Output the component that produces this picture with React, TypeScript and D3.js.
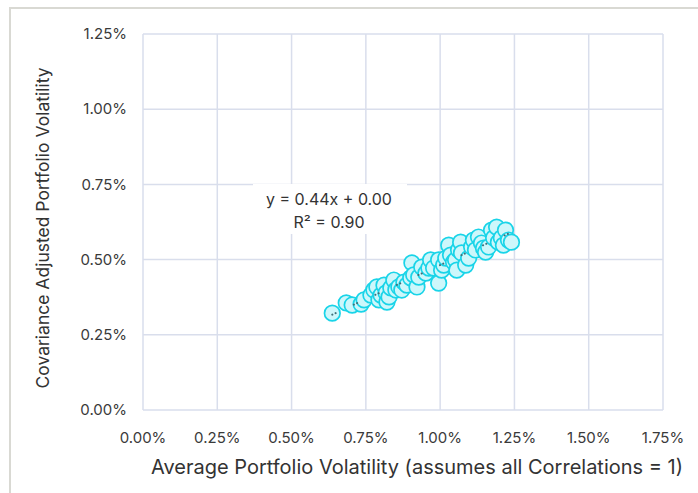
import React from 'react'
import * as d3 from 'd3'

// average portfolio volatility (%), all correlations = 1
const avgVol = [
  0.637, 0.684, 0.704, 0.734, 0.744, 0.767, 0.777, 0.787, 0.794, 0.801,
  0.811, 0.818, 0.821, 0.828, 0.834, 0.844, 0.851, 0.861, 0.871, 0.878,
  0.888, 0.901, 0.905, 0.911, 0.922, 0.928, 0.938, 0.952, 0.962, 0.968,
  0.978, 0.995, 0.995, 1.005, 1.012, 1.019, 1.029, 1.035, 1.045, 1.052,
  1.056, 1.062, 1.069, 1.072, 1.086, 1.096, 1.106, 1.112, 1.119, 1.129,
  1.139, 1.146, 1.153, 1.163, 1.173, 1.180, 1.190, 1.196, 1.206, 1.213,
  1.220, 1.230, 1.240,
]
// covariance adjusted portfolio volatility (%)
const covVol = [
  0.322, 0.356, 0.349, 0.352, 0.366, 0.382, 0.399, 0.409, 0.366, 0.382,
  0.415, 0.389, 0.359, 0.376, 0.406, 0.432, 0.399, 0.409, 0.399, 0.425,
  0.415, 0.439, 0.489, 0.449, 0.409, 0.442, 0.475, 0.455, 0.472, 0.499,
  0.472, 0.422, 0.499, 0.465, 0.482, 0.505, 0.548, 0.515, 0.492, 0.499,
  0.465, 0.532, 0.558, 0.522, 0.482, 0.505, 0.542, 0.565, 0.532, 0.575,
  0.555, 0.538, 0.525, 0.542, 0.598, 0.572, 0.608, 0.558, 0.572, 0.548,
  0.598, 0.565, 0.558,
]

const xTicks = [0, 0.25, 0.5, 0.75, 1.0, 1.25, 1.5, 1.75]
const yTicks = [0, 0.25, 0.5, 0.75, 1.0, 1.25]
const eqLabel = 'y = 0.44x + 0.00'
const r2Label = 'R² = 0.90'

const W = 698
const H = 493
const margin = { top: 34, right: 35, bottom: 83, left: 143 }
const font = 'Inter, "DejaVu Sans", sans-serif'

export default function App() {
  const x = d3.scaleLinear().domain([0, 1.75]).range([margin.left, W - margin.right])
  const y = d3.scaleLinear().domain([0, 1.25]).range([H - margin.bottom, margin.top])

  const pts = avgVol.map((v, i) => [v, covVol[i]] as [number, number])

  // least squares trendline
  const mx = d3.mean(avgVol) as number
  const my = d3.mean(covVol) as number
  const slope =
    d3.sum(pts, d => (d[0] - mx) * (d[1] - my)) / d3.sum(pts, d => (d[0] - mx) ** 2)
  const icpt = my - slope * mx
  const [x0, x1] = d3.extent(avgVol) as [number, number]
  const trend = d3.line<number>().x(d => x(d)).y(d => y(slope * d + icpt))([x0, x1])

  const grid = '#d9deec'
  const fmt = (d: number) => d.toFixed(2) + '%'

  return (
    <svg width={W} height={H} style={{ position: 'absolute', left: 0, top: 0, fontFamily: font }}>
      <rect width={W} height={H} fill="#fff" />
      <path d={`M10,${H} V8 H${W}`} fill="none" stroke="#d9d9d3" strokeWidth={2} />

      {xTicks.map(t => (
        <line key={'gx' + t} x1={x(t)} x2={x(t)} y1={y(0)} y2={y(1.25)} stroke={grid} strokeWidth={1.5} />
      ))}
      {yTicks.map(t => (
        <line key={'gy' + t} x1={x(0)} x2={x(1.75)} y1={y(t)} y2={y(t)} stroke={grid} strokeWidth={1.5} />
      ))}

      {yTicks.map(t => (
        <text key={'ty' + t} x={x(0) - 16} y={y(t)} dy="0.35em" textAnchor="end" fontSize={15} fill="#3a3a3a">
          {fmt(t)}
        </text>
      ))}
      {xTicks.map(t => (
        <text key={'tx' + t} x={x(t)} y={y(0) + 28} dy="0.35em" textAnchor="middle" fontSize={15} fill="#3a3a3a">
          {fmt(t)}
        </text>
      ))}

      {pts.map((d, i) => (
        <circle key={i} cx={x(d[0])} cy={y(d[1])} r={7.8} fill="#cdf7fb" stroke="#19d4e8" strokeWidth={1.7} />
      ))}
      <path d={trend ?? ''} fill="none" stroke="#3f6f79" strokeWidth={2} strokeLinecap="round"
        strokeDasharray="0.1 3.5 0.1 20" />

      <rect x={253} y={184} width={154} height={50} fill="#fff" />
      <text x={329} y={199} dy="0.35em" textAnchor="middle" fontSize={16} fill="#333">{eqLabel}</text>
      <text x={329} y={222} dy="0.35em" textAnchor="middle" fontSize={16} fill="#333">{r2Label}</text>

      <text transform={`translate(43,${(y(0) + y(1.25)) / 2 + 6}) rotate(-90)`} dy="0.35em" textAnchor="middle"
        fontSize={17.5} fill="#333">
        Covariance Adjusted Portfolio Volatility
      </text>
      <text x={417} y={467} dy="0.35em" textAnchor="middle" fontSize={20} fill="#333">
        Average Portfolio Volatility (assumes all Correlations = 1)
      </text>
    </svg>
  )
}
